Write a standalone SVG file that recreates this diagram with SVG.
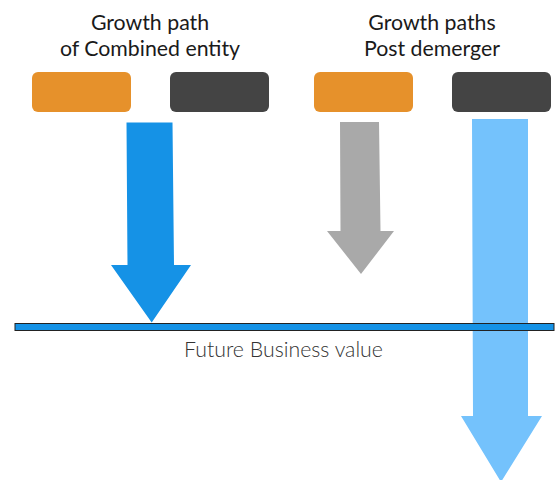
<svg xmlns="http://www.w3.org/2000/svg" width="555" height="480" viewBox="0 0 555 480">
<style>
.title{font-family:Lato,"Liberation Sans",sans-serif;font-size:21.3px;font-weight:400;fill:#1a1a1a;text-anchor:middle}
.label{font-family:Lato,"Liberation Sans",sans-serif;font-size:21.3px;font-weight:300;fill:#333;text-anchor:middle}
.orange{fill:#E6912B}
.dark{fill:#444444}
</style>
<rect width="555" height="480" fill="#fff"/>
<g id="title-left">
<text class="title" x="150" y="30">Growth path</text>
<text class="title" x="150" y="56">of Combined entity</text>
</g>
<g id="title-right">
<text class="title" x="432" y="30">Growth paths</text>
<text class="title" x="432" y="56">Post demerger</text>
</g>
<g id="box-orange-1"><rect class="orange" x="32" y="72" width="99" height="40" rx="6"/></g>
<g id="box-dark-1"><rect class="dark" x="170" y="72" width="99" height="40" rx="6"/></g>
<g id="box-orange-2"><rect class="orange" x="314" y="72" width="99" height="40" rx="6"/></g>
<g id="box-dark-2"><rect class="dark" x="452" y="72" width="99" height="40" rx="6"/></g>
<g id="connectors">
<polygon id="arrow-lightblue" fill="#74C2FC" points="472,119 528,119 528,416 542,416 501,482 461,416 473,416"/>
<polygon id="arrow-gray" fill="#A9A9A9" points="340,122 379,122 380.5,231 394,231 361,274 327,231 340.5,231"/>
<polygon id="arrow-blue" fill="#1592E6" points="126.5,122.5 172.5,122.5 174,265 191,265 151.7,322.5 111,265 127.5,265"/>
</g>
<g id="baseline">
<rect x="15" y="323.5" width="539" height="7" fill="#1592E6" stroke="#222" stroke-width="1"/>
<text class="label" x="283.5" y="357">Future Business value</text>
</g>
</svg>
